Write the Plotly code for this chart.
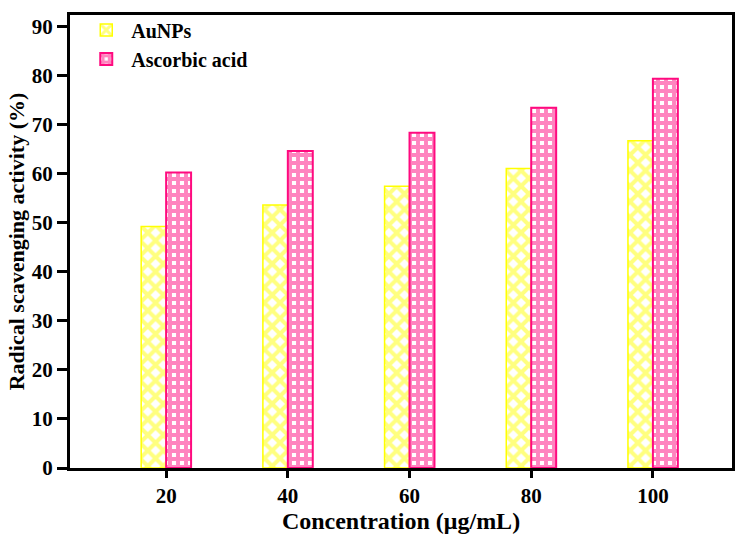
import plotly.graph_objects as go

categories = ["20", "40", "60", "80", "100"]
aunps = [49.2, 53.6, 57.4, 61.0, 66.7]
ascorbic = [60.2, 64.6, 68.3, 73.4, 79.3]
y_ticks = [0, 10, 20, 30, 40, 50, 60, 70, 80, 90]

FONT = "Liberation Serif"

fig = go.Figure()
fig.add_trace(go.Bar(
    x=categories, y=aunps, name="<b>AuNPs</b>",
    marker=dict(color="white", line=dict(color="#FFFF00", width=1.5),
                pattern=dict(shape="x", fgcolor="#FFFF00", bgcolor="white",
                             size=11, solidity=0.6, fillmode="overlay")),
))
fig.add_trace(go.Bar(
    x=categories, y=ascorbic, name="<b>Ascorbic acid</b>",
    marker=dict(color="white", line=dict(color="#FF0A7F", width=2),
                pattern=dict(shape="+", fgcolor="#FF0A7F", bgcolor="white",
                             size=8, solidity=0.74, fillmode="overlay")),
))

fig.update_layout(
    width=742, height=544,
    margin=dict(l=70, r=7, t=15, b=76),
    plot_bgcolor="white", paper_bgcolor="white",
    barmode="group", bargap=0.59, bargroupgap=0,
    font=dict(family=FONT, color="black", size=20),
    showlegend=True,
    legend=dict(x=0.017, y=1.01, xanchor="left", yanchor="top",
                bgcolor="rgba(0,0,0,0)", font=dict(family=FONT, size=20, color="black"),
                tracegroupgap=0, itemwidth=40),
    xaxis=dict(
        type="category", range=[-0.79, 4.65],
        showline=True, linecolor="black", linewidth=3, mirror=True,
        ticks="outside", ticklen=7, tickwidth=3, tickcolor="black",
        tickfont=dict(family=FONT, size=21, color="black", weight="bold"),
        title=dict(text="<b>Concentration (μg/mL)</b>", font=dict(family=FONT, size=24), standoff=2),
        showgrid=False,
    ),
    yaxis=dict(
        range=[0, 92.3], tickvals=y_ticks,
        showline=True, linecolor="black", linewidth=3, mirror=True,
        ticks="outside", ticklen=10, tickwidth=3, tickcolor="black",
        tickfont=dict(family=FONT, size=21, color="black", weight="bold"),
        title=dict(text="<b>Radical scavenging activity (%)</b>", font=dict(family=FONT, size=22), standoff=2),
        showgrid=False, zeroline=False,
    ),
)

fig.write_html("out.html", config={"displayModeBar": False},
               post_script="document.body.style.margin='0';document.body.style.overflow='hidden';")
